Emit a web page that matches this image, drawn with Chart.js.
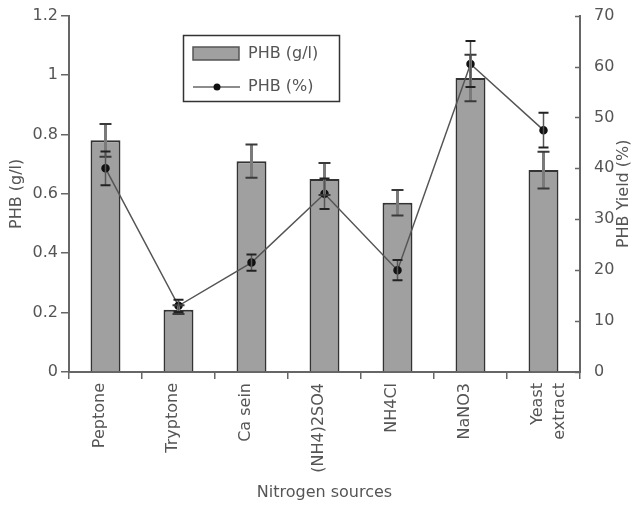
<!DOCTYPE html>
<html>
<head>
<meta charset="utf-8">
<script src="https://cdn.jsdelivr.net/npm/chart.js@4/dist/chart.umd.min.js"></script>
<style>
  html, body { margin: 0; padding: 0; background: #fff; }
  #wrap { width: 634px; height: 506px; position: relative; }
</style>
</head>
<body>
<div id="wrap"><canvas id="chart" width="634" height="506"></canvas></div>
<script>
// dados
const categorias = ['Peptone', 'Tryptone', 'Ca sein', '(NH4)2SO4', 'NH4Cl', 'NaNO3', ['Yeast', 'extract']];
const phbGL = [0.78, 0.21, 0.71, 0.65, 0.57, 0.99, 0.68];
const phbGLErro = [0.055, 0.015, 0.056, 0.054, 0.043, 0.078, 0.062];
const phbPct = [40, 13, 21.5, 35, 20, 60.5, 47.5];
const phbPctErro = [3.3, 1.2, 1.6, 3.0, 2.0, 4.5, 3.4];
const ticksEsq = [0, 0.2, 0.4, 0.6, 0.8, 1, 1.2];
const ticksDir = [0, 10, 20, 30, 40, 50, 60, 70];

const FONTE = 'DejaVu Sans';
const COR_TEXTO = '#555';
const COR_EIXO = '#666';

// barras de erro desenhadas com as escalas do Chart.js
const errorBars = {
    id: 'errorBars',
    afterDatasetsDraw(chart) {
        const ctx = chart.ctx;
        const x = chart.scales.x;
        const desenhar = (valores, erros, escala, corLinha, larguraLinha, corCap, cap) => {
            valores.forEach((v, i) => {
                const px = x.getPixelForValue(i);
                const yTop = escala.getPixelForValue(v + erros[i]);
                const yBot = escala.getPixelForValue(v - erros[i]);
                ctx.strokeStyle = corLinha;
                ctx.lineWidth = larguraLinha;
                ctx.beginPath();
                ctx.moveTo(px, yTop);
                ctx.lineTo(px, yBot);
                ctx.stroke();
                ctx.strokeStyle = corCap;
                ctx.lineWidth = 2;
                ctx.beginPath();
                ctx.moveTo(px - cap, yTop); ctx.lineTo(px + cap, yTop);
                ctx.moveTo(px - cap, yBot); ctx.lineTo(px + cap, yBot);
                ctx.stroke();
            });
        };
        ctx.save();
        desenhar(phbGL, phbGLErro, chart.scales.y, '#7a7a7a', 3, '#3a3a3a', 6);
        desenhar(phbPct, phbPctErro, chart.scales.y1, '#555', 1.5, '#222', 5);
        ctx.restore();
    }
};

// legenda em caixa, marcas do eixo direito para dentro e título do eixo direito
const extras = {
    id: 'extras',
    afterDraw(chart) {
        const ctx = chart.ctx;
        const area = chart.chartArea;
        const y1 = chart.scales.y1;
        ctx.save();
        // marcas do eixo direito (apontam para dentro)
        ctx.strokeStyle = COR_EIXO;
        ctx.lineWidth = 1.5;
        ctx.beginPath();
        ticksDir.forEach(v => {
            const py = Math.round(y1.getPixelForValue(v)) + 0.5;
            ctx.moveTo(area.right - 5, py);
            ctx.lineTo(area.right, py);
        });
        ctx.stroke();
        // caixa
        ctx.strokeStyle = '#333';
        ctx.lineWidth = 1.5;
        ctx.strokeRect(183.5, 35.5, 156, 66);
        // amostra da barra
        ctx.fillStyle = '#a0a0a0';
        ctx.fillRect(193, 47, 46, 13);
        ctx.strokeStyle = '#555';
        ctx.lineWidth = 1.5;
        ctx.strokeRect(193, 47, 46, 13);
        // amostra da linha
        ctx.strokeStyle = '#666';
        ctx.lineWidth = 1.5;
        ctx.beginPath();
        ctx.moveTo(193, 87); ctx.lineTo(240, 87);
        ctx.stroke();
        ctx.fillStyle = '#111';
        ctx.beginPath();
        ctx.arc(217, 87, 3.5, 0, Math.PI * 2);
        ctx.fill();
        // textos
        ctx.fillStyle = COR_TEXTO;
        ctx.font = `16px "${FONTE}"`;
        ctx.textBaseline = 'middle';
        ctx.textAlign = 'left';
        ctx.fillText('PHB (g/l)', 248, 54);
        ctx.fillText('PHB (%)', 248, 87);
        // título do eixo direito, lido de baixo para cima
        ctx.translate(624, (area.top + area.bottom) / 2);
        ctx.rotate(-Math.PI / 2);
        ctx.textAlign = 'center';
        ctx.fillText('PHB Yield (%)', 0, 0);
        ctx.restore();
    }
};

const ctx = document.getElementById('chart').getContext('2d');
new Chart(ctx, {
    type: 'bar',
    data: {
        labels: categorias,
        datasets: [
            {
                type: 'line',
                label: 'PHB (%)',
                data: phbPct,
                yAxisID: 'y1',
                borderColor: '#555',
                borderWidth: 1.5,
                pointBackgroundColor: '#111',
                pointBorderColor: '#111',
                pointRadius: 3.5,
                tension: 0,
                order: 1
            },
            {
                type: 'bar',
                label: 'PHB (g/l)',
                data: phbGL,
                yAxisID: 'y',
                backgroundColor: '#a0a0a0',
                borderColor: '#333',
                borderWidth: 2,
                barPercentage: 0.41,
                categoryPercentage: 1,
                order: 2
            }
        ]
    },
    options: {
        responsive: false,
        animation: false,
        layout: { padding: { left: 0, right: 0, top: 15, bottom: 0 } },
        plugins: {
            legend: { display: false },
            tooltip: { enabled: false }
        },
        scales: {
            x: {
                grid: { display: true, drawOnChartArea: false, tickLength: 7, color: COR_EIXO, lineWidth: 1.5 },
                border: { color: COR_EIXO, width: 2 },
                ticks: {
                    minRotation: 90, maxRotation: 90, padding: 4, labelOffset: -6,
                    color: COR_TEXTO, font: { family: FONTE, size: 16, lineHeight: 1.4 }, autoSkip: false
                },
                title: {
                    display: true, text: 'Nitrogen sources', color: COR_TEXTO,
                    font: { family: FONTE, size: 16 }, padding: { top: 0, bottom: 4 }
                },
                afterFit(scale) { scale.height = 134; }
            },
            y: {
                position: 'left',
                min: 0, max: 1.2,
                afterBuildTicks(scale) { scale.ticks = ticksEsq.map(v => ({ value: v })); },
                grid: { display: true, drawOnChartArea: false, tickLength: 8, color: COR_EIXO, lineWidth: 1.5 },
                border: { color: COR_EIXO, width: 2 },
                ticks: {
                    padding: 3, color: COR_TEXTO, font: { family: FONTE, size: 16 },
                    callback: v => String(v)
                },
                title: {
                    display: true, text: 'PHB (g/l)', color: COR_TEXTO,
                    font: { family: FONTE, size: 16 }, padding: { top: 7, bottom: 0 }
                },
                afterFit(scale) { scale.width = 69; }
            },
            y1: {
                position: 'right',
                min: 0, max: 70,
                afterBuildTicks(scale) { scale.ticks = ticksDir.map(v => ({ value: v })); },
                grid: { display: false },
                border: { color: COR_EIXO, width: 2 },
                ticks: { padding: 6, color: COR_TEXTO, font: { family: FONTE, size: 16 } },
                afterFit(scale) { scale.width = 54; }
            }
        }
    },
    plugins: [errorBars, extras]
});
</script>
</body>
</html>
